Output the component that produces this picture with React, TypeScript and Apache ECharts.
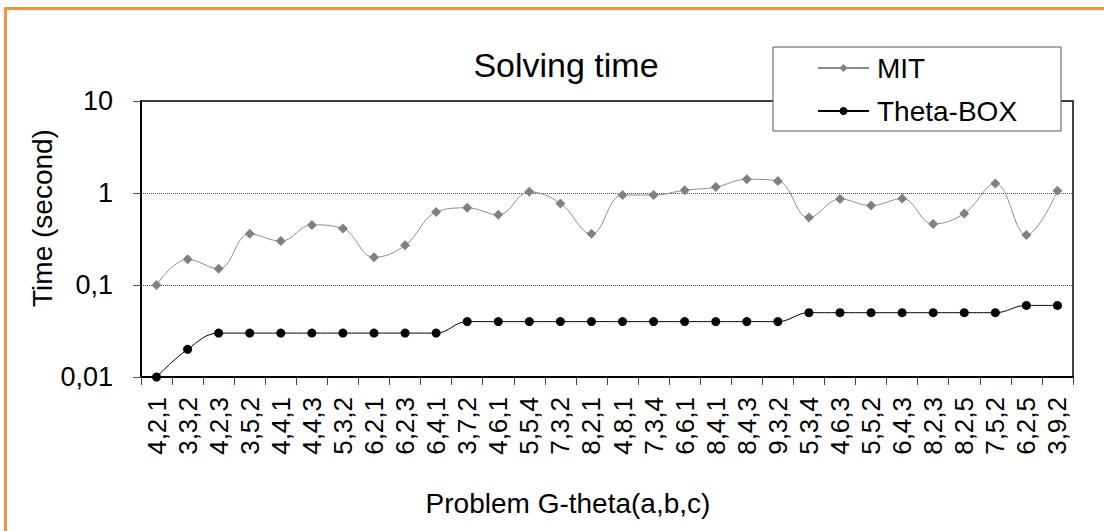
import React, { useEffect, useRef } from "react";
import * as echarts from "echarts";

const categories = [
  "4,2,1", "3,3,2", "4,2,3", "3,5,2", "4,4,1", "4,4,3", "5,3,2", "6,2,1", "6,2,3", "6,4,1",
  "3,7,2", "4,6,1", "5,5,4", "7,3,2", "8,2,1", "4,8,1", "7,3,4", "6,6,1", "8,4,1", "8,4,3",
  "9,3,2", "5,3,4", "4,6,3", "5,5,2", "6,4,3", "8,2,3", "8,2,5", "7,5,2", "6,2,5", "3,9,2",
];
const mitTimes = [
  0.10, 0.19, 0.15, 0.36, 0.30, 0.45, 0.41, 0.20, 0.27, 0.62,
  0.69, 0.58, 1.03, 0.77, 0.36, 0.95, 0.95, 1.07, 1.16, 1.41,
  1.35, 0.54, 0.86, 0.73, 0.87, 0.46, 0.60, 1.27, 0.35, 1.06,
];
const thetaBoxTimes = [
  0.01, 0.02, 0.03, 0.03, 0.03, 0.03, 0.03, 0.03, 0.03, 0.03,
  0.04, 0.04, 0.04, 0.04, 0.04, 0.04, 0.04, 0.04, 0.04, 0.04,
  0.04, 0.05, 0.05, 0.05, 0.05, 0.05, 0.05, 0.05, 0.06, 0.06,
];
const yTickLabels: Record<string, string> = { "1": "10", "0": "1", "-1": "0,1", "-2": "0,01" };

const FONT = "'Liberation Sans', Arial, sans-serif";

export default function App() {
  const ref = useRef<HTMLDivElement>(null);
  useEffect(() => {
    if (!ref.current) return;
    const chart = echarts.init(ref.current, null, { renderer: "svg" });
    chart.setOption({
      animation: false,
      backgroundColor: "#ffffff",
      grid: {
        left: 141, top: 101, right: 31, bottom: 154,
        show: true, borderColor: "#000", borderWidth: 1.5, backgroundColor: "transparent",
      },
      legend: {
        orient: "vertical",
        left: 773,
        top: 47,
        padding: [5, 44, 4, 44],
        itemWidth: 51,
        itemHeight: 10,
        itemGap: 11,
        backgroundColor: "#fff",
        borderColor: "#555",
        borderWidth: 1,
        textStyle: { fontSize: 28, fontFamily: FONT, color: "#000", lineHeight: 32, padding: [0, 0, 0, 3] },
        data: ["MIT", "Theta-BOX"],
      },
      xAxis: {
        type: "category",
        data: categories,
        boundaryGap: true,
        axisLine: { lineStyle: { color: "#000", width: 2 } },
        axisTick: { show: true, length: 8, inside: false, lineStyle: { color: "#444" } },
        axisLabel: { rotate: 90, fontSize: 26, fontFamily: FONT, color: "#000", margin: 20, interval: 0 },
      },
      yAxis: {
        type: "log",
        logBase: 10,
        min: 0.01,
        max: 10,
        axisLine: { show: true, lineStyle: { color: "#000", width: 2 } },
        axisTick: { show: true, length: 8, lineStyle: { color: "#555" } },
        axisLabel: {
          fontSize: 27, fontFamily: FONT, color: "#000", margin: 28,
          formatter: (v: number) => yTickLabels[String(Math.round(Math.log10(v)))] ?? String(v),
        },
        splitLine: { show: true, lineStyle: { color: "#444", type: [1, 1], width: 1 } },
      },
      series: [
        {
          name: "MIT",
          type: "line",
          data: mitTimes,
          smooth: 0.4,
          symbol: "diamond",
          symbolSize: 10,
          itemStyle: { color: "#808080" },
          lineStyle: { color: "#8c8c8c", width: 1 },
          z: 3,
        },
        {
          name: "Theta-BOX",
          type: "line",
          data: thetaBoxTimes,
          smooth: 0.4,
          symbol: "circle",
          symbolSize: 9,
          itemStyle: { color: "#000" },
          lineStyle: { color: "#000", width: 1 },
          z: 3,
        },
      ],
      graphic: [
        {
          type: "rect",
          shape: { x: 5.5, y: 8.5, width: 1300, height: 700 },
          style: { fill: "none", stroke: "#F8913F", lineWidth: 3 },
          silent: true,
        },
        {
          type: "text",
          x: 566, y: 65,
          style: { text: "Solving time", fontSize: 34, fontFamily: FONT, fill: "#000", textAlign: "center", textVerticalAlign: "middle" },
        },
        {
          type: "text",
          x: 42, y: 218, rotation: Math.PI / 2,
          style: { text: "Time (second)", fontSize: 28, fontFamily: FONT, fill: "#000", textAlign: "center", textVerticalAlign: "middle" },
        },
        {
          type: "text",
          x: 568, y: 503,
          style: { text: "Problem G-theta(a,b,c)", fontSize: 28, fontFamily: FONT, fill: "#000", textAlign: "center", textVerticalAlign: "middle" },
        },
      ],
    });
    return () => chart.dispose();
  }, []);
  return (
    <div
      ref={ref}
      style={{ position: "fixed", left: 0, top: 0, width: 1104, height: 531, background: "#fff" }}
    />
  );
}
